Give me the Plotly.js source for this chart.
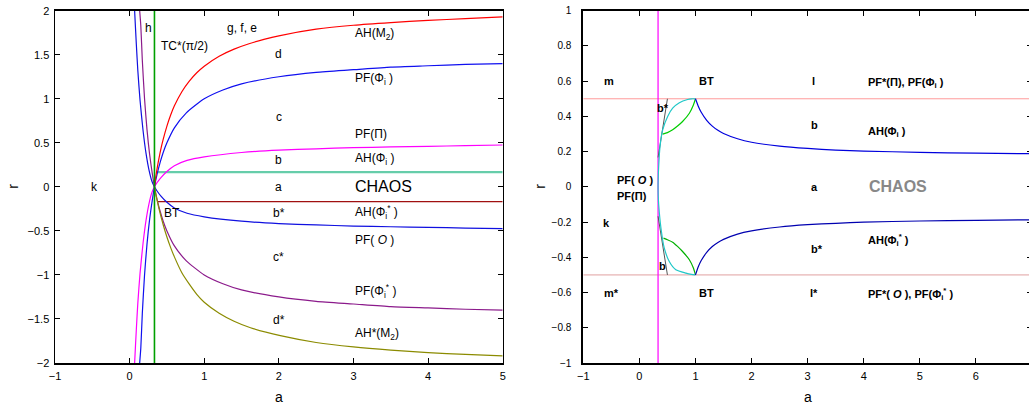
<!DOCTYPE html>
<html>
<head>
<meta charset="utf-8">
<script src="https://cdn.plot.ly/plotly-3.0.1.min.js"></script>
<style>
  html, body { margin: 0; padding: 0; overflow: hidden; background: #fff; }
  #chart { width: 1032px; height: 405px; }
</style>
</head>
<body>
<div id="chart"></div>
<script>
// ---------- Left panel: bifurcation curves in the (a, r) plane ----------
// AH(M2) (red) and its mirror AH*(M2) (olive)
const aAHM2 = [0.333, 0.35, 0.37, 0.39, 0.42, 0.45, 0.5, 0.55, 0.6, 0.7, 0.8, 0.9, 1.0, 1.2, 1.4, 1.6, 1.8, 2.0, 2.5, 3, 3.5, 4, 4.5, 5];
const rAHM2 = [0, 0.11, 0.215, 0.31, 0.435, 0.54, 0.69, 0.815, 0.92, 1.08, 1.2, 1.295, 1.37, 1.483, 1.564, 1.625, 1.674, 1.715, 1.79, 1.835, 1.865, 1.89, 1.91, 1.93];
const aAHM2s = [0.333, 0.36, 0.4, 0.45, 0.5, 0.55, 0.6, 0.7, 0.8, 0.9, 1.0, 1.2, 1.4, 1.62, 2.02, 2.5, 3, 3.5, 4, 4.5, 5];
const rAHM2s = [0, -0.12, -0.27, -0.43, -0.57, -0.69, -0.795, -0.975, -1.105, -1.22, -1.31, -1.435, -1.526, -1.60, -1.69, -1.767, -1.818, -1.854, -1.882, -1.903, -1.92];

// PF(Phi_i) (blue, crossing BT from the lower left) and PF(Phi_i*) (purple)
const aPFPhi = [0.13, 0.15, 0.17, 0.2, 0.233, 0.268, 0.304, 0.333, 0.37, 0.41, 0.45, 0.5, 0.6, 0.76, 1.0, 1.25, 1.5, 2, 2.5, 3, 3.5, 4, 4.5, 5];
const rPFPhi = [-2.05, -1.83, -1.44, -1.0, -0.65, -0.37, -0.15, 0, 0.15, 0.28, 0.39, 0.5, 0.67, 0.84, 1.0, 1.1, 1.17, 1.25, 1.30, 1.33, 1.36, 1.375, 1.39, 1.40];
const rPFPhis = [2.05, 1.83, 1.44, 1.0, 0.65, 0.37, 0.15, 0, -0.15, -0.28, -0.39, -0.5, -0.67, -0.84, -1.0, -1.1, -1.17, -1.25, -1.30, -1.33, -1.36, -1.375, -1.39, -1.40];

// AH(Phi_i) (magenta) and PF(O) (blue, mirror image)
const aAHPhi = [0.062, 0.067, 0.09, 0.11, 0.14, 0.18, 0.22, 0.26, 0.30, 0.333, 0.37, 0.42, 0.5, 0.6, 0.77, 1.0, 1.5, 2, 2.5, 3, 3.5, 4, 4.5, 5];
const rAHPhi = [-2.1, -2.0, -1.62, -1.32, -0.98, -0.64, -0.38, -0.19, -0.06, 0, 0.05, 0.105, 0.175, 0.24, 0.30, 0.34, 0.39, 0.417, 0.432, 0.445, 0.453, 0.46, 0.468, 0.475];
const rPFO = [2.1, 2.0, 1.62, 1.32, 0.98, 0.64, 0.38, 0.19, 0.06, 0, -0.05, -0.105, -0.175, -0.24, -0.30, -0.34, -0.39, -0.417, -0.432, -0.445, -0.453, -0.46, -0.468, -0.475];

// PF(Pi) level, its mirror, and the TC*(pi/2) line
const aPFPi = [0.36, 5];
const rPFPi = [0.167, 0.167];
const aPFPis = [0.367, 5];
const rPFPis = [-0.167, -0.167];
const aTC = [0.333, 0.333];
const rTC = [-2, 2];

// ---------- Right panel ----------
const aAHr = [1.0, 1.05, 1.1, 1.2, 1.3, 1.4, 1.5, 1.75, 2.0, 2.5, 3, 3.5, 4, 5, 6, 7];
const rAHr = [0.5, 0.458, 0.425, 0.378, 0.345, 0.321, 0.303, 0.273, 0.253, 0.231, 0.218, 0.209, 0.203, 0.196, 0.191, 0.188];
const rAHrs = [-0.5, -0.454, -0.42, -0.372, -0.339, -0.316, -0.298, -0.268, -0.25, -0.228, -0.215, -0.207, -0.2, -0.194, -0.19, -0.187];

const aCyan = [1.0, 0.93, 0.86, 0.713, 0.593, 0.504, 0.415, 0.368, 0.344, 0.336, 0.333, 0.336, 0.344, 0.385, 0.444, 0.533, 0.65, 0.83, 0.93, 1.0];
const rCyan = [0.5, 0.5, 0.496, 0.478, 0.447, 0.40, 0.324, 0.229, 0.115, 0.05, 0, -0.05, -0.10, -0.235, -0.348, -0.424, -0.471, -0.49, -0.497, -0.5];

const aGreenUp = [0.415, 0.5, 0.593, 0.68, 0.77, 0.891, 0.963, 1.0];
const rGreenUp = [0.299, 0.308, 0.324, 0.345, 0.371, 0.418, 0.465, 0.5];
const aGreenDn = [0.43, 0.5, 0.593, 0.68, 0.77, 0.891, 0.963, 1.0];
const rGreenDn = [-0.291, -0.30, -0.314, -0.338, -0.367, -0.414, -0.461, -0.5];

const aGrayUp = [0.333, 0.5];
const rGrayUp = [0.167, 0.5];
const aGrayDn = [0.333, 0.5];
const rGrayDn = [-0.167, -0.5];

const aLevel = [-1, 7];
const rLevelUp = [0.5, 0.5];
const rLevelDn = [-0.5, -0.5];
const aVert = [0.333, 0.333];
const rVert = [-1, 1];

// Tick values
const leftXTicks = [-1, 0, 1, 2, 3, 4, 5];
const leftYTicks = [-2, -1.5, -1, -0.5, 0, 0.5, 1, 1.5, 2];
const rightXTicks = [-1, 0, 1, 2, 3, 4, 5, 6];
const rightYTicks = [-1, -0.8, -0.6, -0.4, -0.2, 0, 0.2, 0.4, 0.6, 0.8, 1];

function line(x, y, color, width, axes, shape) {
  return {
    x: x, y: y, type: 'scatter', mode: 'lines', hoverinfo: 'skip',
    line: { color: color, width: width, shape: shape || 'spline', smoothing: 0.6 },
    xaxis: axes === 2 ? 'x2' : 'x', yaxis: axes === 2 ? 'y2' : 'y'
  };
}

const traces = [
  line(aPFPi, rPFPi, '#66cdaa', 2.2, 1, 'linear'),
  line(aPFPis, rPFPis, '#a01010', 1.2, 1, 'linear'),
  line(aAHPhi, rAHPhi, '#ff00ff', 1.2, 1),
  line(aAHPhi, rPFO, '#1010e0', 1.2, 1),
  line(aPFPhi, rPFPhi, '#1010f0', 1.2, 1),
  line(aPFPhi, rPFPhis, '#8b1a8b', 1.2, 1),
  line(aAHM2, rAHM2, '#ff0000', 1.2, 1),
  line(aAHM2s, rAHM2s, '#8b8b00', 1.2, 1),
  line(aTC, rTC, '#00a000', 1.6, 1, 'linear'),

  line(aLevel, rLevelUp, '#ff9a9a', 1, 2, 'linear'),
  line(aLevel, rLevelDn, '#e0a0a0', 1, 2, 'linear'),
  line(aVert, rVert, '#ff00ff', 1.2, 2, 'linear'),
  line(aGrayUp, rGrayUp, '#555555', 1, 2, 'linear'),
  line(aGrayDn, rGrayDn, '#555555', 1, 2, 'linear'),
  line(aGreenUp, rGreenUp, '#00cc00', 1.2, 2),
  line(aGreenDn, rGreenDn, '#00b000', 1.2, 2),
  line(aCyan, rCyan, '#20c8c8', 1.2, 2),
  line(aAHr, rAHr, '#0000dd', 1.2, 2),
  line(aAHr, rAHrs, '#0000b0', 1.2, 2)
];

const FONT = 'Liberation Sans, Arial, Helvetica, sans-serif';

function lab(text, x, y, ax, opts) {
  opts = opts || {};
  return {
    text: text, x: x, y: y,
    xref: ax === 2 ? 'x2' : 'x', yref: ax === 2 ? 'y2' : 'y',
    showarrow: false, xanchor: opts.anchor || 'center', yanchor: 'middle',
    font: { family: FONT, size: opts.size || 12, color: opts.color || '#000' }
  };
}
function bold(s) { return '<b>' + s + '</b>'; }

const annotations = [
  // left panel region labels
  lab('h', 0.25, 1.80, 1),
  lab('TC*(π/2)', 0.40, 1.60, 1, { anchor: 'left' }),
  lab('g, f, e', 1.51, 1.80, 1),
  lab('AH(M<sub>2</sub>)', 3.0, 1.73, 1, { anchor: 'left' }),
  lab('d', 2, 1.51, 1),
  lab('PF(Φ<sub>i</sub> )', 3.0, 1.22, 1, { anchor: 'left' }),
  lab('c', 2, 0.79, 1),
  lab('PF(Π)', 3.0, 0.60, 1, { anchor: 'left' }),
  lab('b', 2, 0.30, 1),
  lab('AH(Φ<sub>i</sub> )', 3.0, 0.32, 1, { anchor: 'left' }),
  lab('k', -0.47, 0, 1),
  lab('a', 2, 0, 1),
  lab('CHAOS', 3.0, 0, 1, { anchor: 'left', size: 16 }),
  lab('BT', 0.44, -0.30, 1, { anchor: 'left' }),
  lab('b*', 2, -0.30, 1),
  lab('AH(Φ<sub>i</sub><sup>*</sup> )', 3.0, -0.29, 1, { anchor: 'left' }),
  lab('PF( <i>O</i> )', 3.0, -0.60, 1, { anchor: 'left' }),
  lab('c*', 2, -0.80, 1),
  lab('PF(Φ<sub>i</sub><sup>*</sup> )', 3.0, -1.18, 1, { anchor: 'left' }),
  lab('d*', 2, -1.51, 1),
  lab('AH*(M<sub>2</sub>)', 3.0, -1.67, 1, { anchor: 'left' }),

  // right panel region labels
  lab(bold('m'), -0.55, 0.60, 2, { size: 11 }),
  lab(bold('BT'), 1.19, 0.60, 2, { size: 11 }),
  lab(bold('l'), 3.1, 0.60, 2, { size: 11 }),
  lab(bold('PF*(Π), PF(Φ<sub>i</sub> )'), 4.04, 0.59, 2, { anchor: 'left', size: 11 }),
  lab(bold('b*'), 0.415, 0.445, 2, { size: 11 }),
  lab(bold('b'), 3.12, 0.35, 2, { size: 11 }),
  lab(bold('AH(Φ<sub>i</sub> )'), 4.04, 0.31, 2, { anchor: 'left', size: 11 }),
  lab(bold('PF( <i>O</i> )'), -0.44, 0.04, 2, { anchor: 'left', size: 11 }),
  lab(bold('PF(Π)'), -0.44, -0.053, 2, { anchor: 'left', size: 11 }),
  lab(bold('a'), 3.12, 0, 2, { size: 11 }),
  lab(bold('CHAOS'), 4.06, 0, 2, { anchor: 'left', size: 16, color: '#888888' }),
  lab(bold('k'), -0.58, -0.205, 2, { size: 11 }),
  lab(bold('AH(Φ<sub>i</sub><sup>*</sup> )'), 4.04, -0.30, 2, { anchor: 'left', size: 11 }),
  lab(bold('b*'), 3.17, -0.35, 2, { size: 11 }),
  lab(bold('b'), 0.41, -0.45, 2, { size: 11 }),
  lab(bold('m*'), -0.5, -0.60, 2, { size: 11 }),
  lab(bold('BT'), 1.19, -0.60, 2, { size: 11 }),
  lab(bold('l*'), 3.12, -0.60, 2, { size: 11 }),
  lab(bold('PF*( <i>O</i> ), PF(Φ<sub>i</sub><sup>*</sup> )'), 4.04, -0.61, 2, { anchor: 'left', size: 11 }),

  // axis titles
  { text: 'a', xref: 'x', yref: 'paper', x: 2, y: 0.02, showarrow: false, xanchor: 'center', yanchor: 'middle', font: { family: FONT, size: 14 } },
  { text: 'a', xref: 'x2', yref: 'paper', x: 3, y: 0.02, showarrow: false, xanchor: 'center', yanchor: 'middle', font: { family: FONT, size: 14 } },
  { text: 'r', xref: 'paper', yref: 'y', x: 13 / 1032, y: 0, textangle: -90, showarrow: false, xanchor: 'center', yanchor: 'middle', font: { family: FONT, size: 14 } },
  { text: 'r', xref: 'paper', yref: 'y2', x: 540 / 1032, y: 0, textangle: -90, showarrow: false, xanchor: 'center', yanchor: 'middle', font: { family: FONT, size: 14 } }
];

const yDom = [42 / 405, (405 - 10.7) / 405];
const axisCommon = {
  showgrid: false, zeroline: false, ticks: 'inside', ticklen: 5, tickwidth: 1,
  tickcolor: '#000', showline: true, linecolor: '#000', fixedrange: true
};

const layout = {
  width: 1032, height: 405,
  margin: { l: 0, r: 0, t: 0, b: 0 },
  paper_bgcolor: '#fff', plot_bgcolor: '#fff',
  showlegend: false,
  font: { family: FONT, size: 11, color: '#000' },
  xaxis: Object.assign({}, axisCommon, {
    domain: [55 / 1032, 502.7 / 1032], range: [-1, 5], tickvals: leftXTicks,
    mirror: 'allticks', linewidth: 1.5, anchor: 'y', ticklabelstandoff: 2
  }),
  yaxis: Object.assign({}, axisCommon, {
    domain: yDom, range: [-2, 2], tickvals: leftYTicks,
    mirror: 'allticks', linewidth: 1.5, anchor: 'x', ticklabelstandoff: 2
  }),
  xaxis2: Object.assign({}, axisCommon, {
    domain: [583.3 / 1032, 1], range: [-1, 7], tickvals: rightXTicks,
    mirror: 'ticks', linewidth: 2, anchor: 'y2', ticklabelstandoff: 2
  }),
  yaxis2: Object.assign({}, axisCommon, {
    domain: yDom, range: [-1, 1], tickvals: rightYTicks,
    mirror: 'ticks', linewidth: 2, anchor: 'x2', ticklabelstandoff: 8,
    tickfont: { size: 10 }
  }),
  annotations: annotations
};

Plotly.newPlot('chart', traces, layout, { staticPlot: true, displayModeBar: false });
</script>
</body>
</html>
